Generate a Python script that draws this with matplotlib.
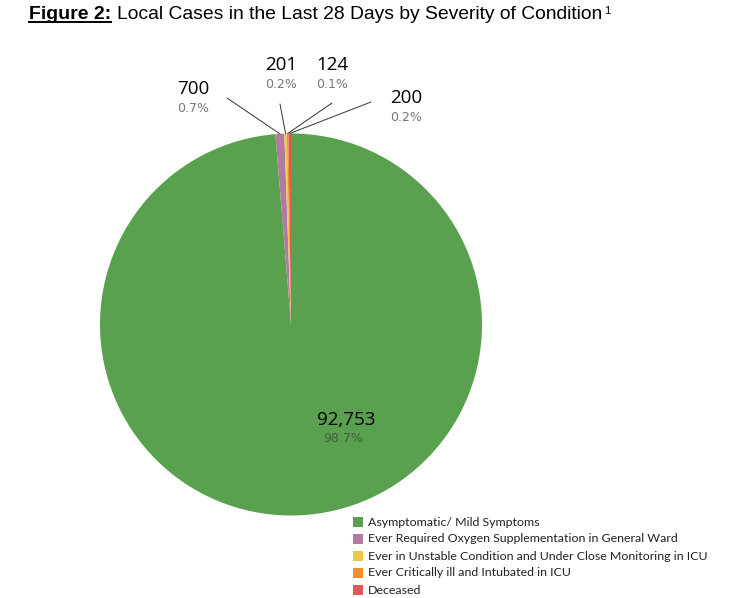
import numpy as np
import matplotlib
matplotlib.use("Agg")
import matplotlib.pyplot as plt
from matplotlib.patches import Rectangle

# data
categories = ["Asymptomatic/ Mild Symptoms",
              "Ever Required Oxygen Supplementation in General Ward",
              "Ever in Unstable Condition and Under Close Monitoring in ICU",
              "Ever Critically ill and Intubated in ICU",
              "Deceased"]
cases = [92753, 700, 201, 124, 200]
pct_labels = ["98.7%", "0.7%", "0.2%", "0.1%", "0.2%"]
colors = ["#59A14F", "#B07AA1", "#EDC948", "#F28E2B", "#E15759"]

W, H = 747, 598


def fx(x, y):
    # pixel -> figure fraction
    return (x / W, 1 - y / H)


fig = plt.figure(figsize=(W / 100, H / 100), dpi=100)

# pie in pixel box, centre (291,324.5), r=191
cx, cy, r = 291, 324.5, 191
ax = fig.add_axes([(cx - r) / W, 1 - (cy + r) / H, 2 * r / W, 2 * r / H])
wedges, _ = ax.pie(cases, colors=colors, startangle=90, counterclock=False,
                   wedgeprops=dict(linewidth=0))
ax.set_xlim(-1, 1)
ax.set_ylim(-1, 1)
ax.axis("off")

# title
fig.text(*fx(29, 19), "Figure 2:", fontsize=14, fontweight="bold",
         family="Liberation Sans", va="baseline")
fig.add_artist(plt.Line2D([29 / W, 111 / W], [1 - 21.5 / H, 1 - 21.5 / H],
                          color="black", lw=1.4))
fig.text(*fx(117, 19), "Local Cases in the Last 28 Days by Severity of Condition",
         fontsize=13.9, family="Liberation Sans", va="baseline")
fig.text(*fx(604, 14), "1", fontsize=8, family="Liberation Sans", va="baseline")

# big label
fig.text(*fx(346, 420), "{:,}".format(cases[0]), fontsize=13.5, ha="center",
         va="center", family="Open Sans")
fig.text(*fx(343, 438), pct_labels[0], fontsize=9, ha="center", va="center",
         color="#333333", alpha=0.6, family="DejaVu Sans")

# small labels with leader lines
label_pos = [(193, 89), (281.5, 64.5), (332.5, 64.5), (406.5, 97.5)]
line_start = [(227, 98), (280, 104), (332, 103), (371, 102)]
for i in range(1, 5):
    w = wedges[i]
    ang = np.deg2rad((w.theta1 + w.theta2) / 2)
    tip = (np.cos(ang), np.sin(ang))
    ax.annotate("", xy=tip, xycoords="data",
                xytext=fx(*line_start[i - 1]), textcoords="figure fraction",
                arrowprops=dict(arrowstyle="-", color="#333333", lw=0.7,
                                shrinkA=0, shrinkB=0))
    lx, ly = label_pos[i - 1]
    fig.text(*fx(lx, ly), "{:,}".format(cases[i]), fontsize=13.5, ha="center",
             va="center", family="Open Sans")
    fig.text(*fx(lx, ly + 20), pct_labels[i], fontsize=9, ha="center",
             va="center", color="#777777", family="DejaVu Sans")

# legend (drawn by hand to match the row layout)
for k, (lab, col) in enumerate(zip(categories, colors)):
    y = 522 + 17 * k
    fig.add_artist(Rectangle(fx(353, y + 5), 10 / W, 10 / H, facecolor=col,
                             edgecolor="none", transform=fig.transFigure))
    fig.text(*fx(368, y), lab, fontsize=8.95, family="Lato", va="center",
             color="#222222")

fig.savefig("out.png", dpi=100)
